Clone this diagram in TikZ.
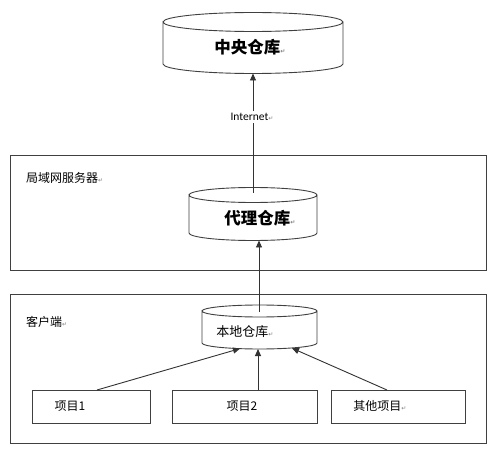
\documentclass[tikz,border=0pt]{standalone}
\usepackage{fontspec}
\setmainfont{Noto Sans CJK SC}
\newfontfamily\cjk{Noto Sans CJK SC}
\newfontfamily\latinfont{Carlito}
\newfontfamily\symfont{DejaVu Sans}
\usetikzlibrary{arrows.meta}
\newcommand\pmark{{\symfont\color{gray}\fontsize{6}{6}\selectfont ↵}}
\newcommand\mycyl[5]{% xl xr ytop ybot ry
  \pgfmathsetmacro\rxx{(#2-#1)/2}
  \draw[cylline] (#1,#4) -- (#1,#3) arc[start angle=180,end angle=-180,x radius=\rxx,y radius=#5]
    (#2,#3) -- (#2,#4) arc[start angle=0,end angle=180,x radius=\rxx,y radius=#5];
}
\begin{document}
\begin{tikzpicture}[x=1pt,y=-1pt,
  cylline/.style={draw=black!75,line width=0.9pt},
  frame/.style={draw=black!75,line width=0.9pt},
  itembox/.style={draw=black!75,line width=0.9pt,minimum width=118pt,minimum height=33pt,inner sep=0pt},
  plainline/.style={draw=black!80,line width=0.9pt},
  conn/.style={plainline,-{Triangle[length=7pt,width=6pt]}},
  lbl/.style={inner sep=0pt,font=\cjk\fontsize{12}{12}\selectfont},
  bigl/.style={inner sep=0pt,font=\cjk\bfseries\fontsize{16.5}{17}\selectfont}]
\useasboundingbox (0,0) rectangle (491,452);
\fill[white] (0,0) rectangle (491,452);
% group frames
\node[frame,minimum width=476pt,minimum height=115pt,inner sep=0pt] (lan) at (248,212.5) {};
\node[frame,minimum width=476pt,minimum height=149pt,inner sep=0pt] (client) at (248,368.5) {};
\node[lbl,anchor=west] (lanlbl) at (26,178) {局域网服务器\pmark};
\node[lbl,anchor=west] (clientlbl) at (26,322) {客户端\pmark};
% cylinders
\mycyl{163}{343}{22}{64}{9.5}
\mycyl{189}{317}{195}{233}{7.5}
\mycyl{202}{317}{311}{343}{6}
\node[bigl] (central) at (250,47) {中央仓库\pmark};
\node[bigl] (proxy) at (260,218) {代理仓库\pmark};
\node[lbl,font=\cjk\fontsize{13}{13}\selectfont] (local) at (245,332) {本地仓库\pmark};
% items
\node[itembox] (item1) at (91,406.5) {};
\node[itembox,minimum width=145pt] (item2) at (244.5,406.5) {};
\node[itembox,minimum width=134pt] (item3) at (398,406.5) {};
\node[lbl] (t1) at (70,406) {项目1};
\node[lbl] (t2) at (242,406) {项目2};
\node[lbl] (t3) at (380,406) {其他项目\pmark};
% connector ends
\coordinate (cbot) at (253,73.5);
\coordinate (ptop) at (253,193);
\coordinate (pbot) at (259,240.5);
\coordinate (ltop) at (259,312);
\coordinate (lb1) at (240,348.6);
\coordinate (lb2) at (258,349);
\coordinate (lb3) at (292,348.2);
\coordinate (i1) at (97,390);
\coordinate (i2) at (258,390);
\coordinate (i3) at (387,390);
\node[inner sep=2pt,font=\latinfont\fontsize{11.5}{12}\selectfont] (inet) at (252,117) {Internet\pmark};
\draw[plainline] (ptop) -- (inet.south -| ptop);
\draw[conn] (inet.north -| ptop) -- (cbot);
\draw[conn] (ltop) -- (pbot);
\draw[conn] (i1) -- (lb1);
\draw[conn] (i2) -- (lb2);
\draw[conn] (i3) -- (lb3);
\end{tikzpicture}
\end{document}
